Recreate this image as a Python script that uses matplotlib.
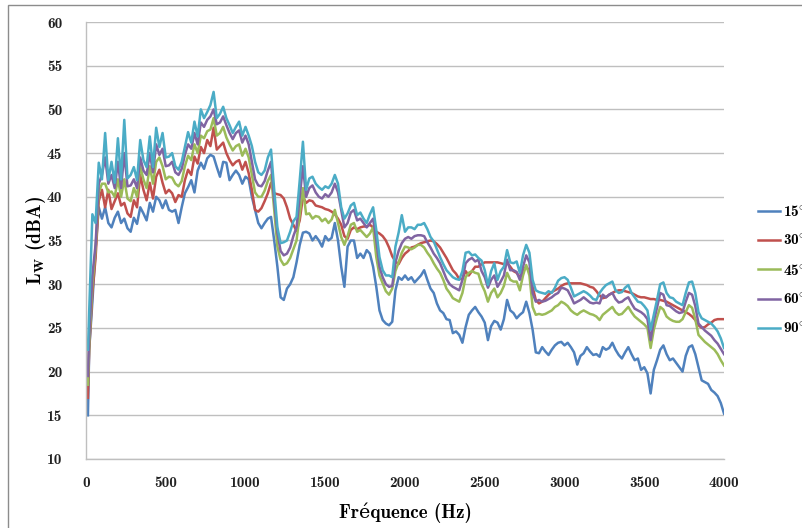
import matplotlib
matplotlib.use("Agg")
import matplotlib.pyplot as plt
import matplotlib.patches as patches

plt.rcParams['font.family'] = ['cmb10', 'DejaVu Serif']
plt.rcParams['font.weight'] = 'bold'
plt.rcParams['mathtext.fontset'] = 'cm'
plt.rcParams['axes.unicode_minus'] = False

# frequency grid (Hz)
freq = [12] + list(range(20, 4001, 20))

lw_15 = [15.0,
         22.5, 28.0, 34.0, 38.8, 37.5, 38.8, 37.0, 36.5, 37.6, 38.3,
         37.0, 37.5, 36.4, 36.0, 37.6, 36.9, 38.8, 38.1, 37.3, 39.3,
         38.3, 40.0, 39.6, 38.7, 39.6, 38.5, 38.3, 38.5, 37.0, 38.8,
         40.4, 41.1, 41.9, 40.5, 43.0, 43.9, 43.2, 44.4, 44.8, 44.6,
         43.4, 42.3, 44.0, 43.9, 41.9, 42.5, 43.0, 42.5, 41.5, 42.3,
         42.0, 40.0, 38.5, 37.0, 36.4, 37.0, 37.5, 37.7, 35.0, 32.0,
         28.5, 28.2, 29.5, 30.0, 30.8, 32.5, 34.5, 35.9, 36.0, 35.8,
         35.0, 35.5, 35.0, 34.3, 35.5, 35.0, 35.3, 37.0, 35.0, 32.0,
         29.7, 34.3, 35.0, 35.0, 33.0, 33.5, 33.0, 33.9, 33.5, 32.0,
         29.7, 27.0, 25.9, 25.5, 25.3, 25.7, 29.3, 30.8, 30.5, 31.0,
         30.5, 30.8, 30.2, 30.6, 31.0, 31.6, 30.5, 29.5, 29.0, 27.8,
         27.0, 26.7, 26.0, 25.9, 24.4, 24.6, 24.2, 23.3, 25.1, 26.5,
         27.0, 27.4, 26.8, 26.3, 25.6, 23.6, 25.2, 25.8, 25.6, 24.8,
         26.0, 28.2, 27.0, 26.7, 26.1, 26.5, 26.8, 28.0, 26.7, 24.8,
         22.2, 22.1, 22.8, 22.3, 21.9, 22.5, 23.0, 23.3, 23.4, 23.0,
         23.3, 22.8, 22.2, 20.8, 21.8, 22.1, 22.8, 22.3, 21.9, 22.0,
         21.7, 22.8, 22.5, 22.7, 23.3, 22.5, 21.9, 21.5, 22.2, 22.8,
         22.0, 21.3, 21.5, 20.2, 20.5, 19.8, 17.5, 20.2, 21.3, 22.5,
         23.0, 22.0, 21.3, 21.5, 21.0, 20.5, 20.0, 21.8, 22.8, 23.0,
         22.0, 20.5, 19.0, 18.8, 18.6, 17.9, 17.6, 17.2, 16.4, 15.2]

lw_30 = [17.0,
         22.5, 29.0, 33.0, 39.5, 40.8, 38.8, 40.8, 38.6, 39.5, 40.4,
         39.0, 39.3, 38.1, 37.7, 39.6, 38.8, 42.5, 40.8, 39.6, 41.6,
         39.8, 42.3, 43.1, 41.6, 40.4, 40.8, 40.4, 39.4, 40.2, 40.0,
         41.9, 43.1, 42.5, 44.6, 43.8, 45.7, 45.0, 46.5, 45.8, 47.9,
         45.4, 45.8, 46.2, 45.0, 44.2, 43.6, 44.0, 44.2, 43.1, 44.0,
         42.7, 40.8, 38.5, 38.3, 38.7, 39.5, 40.4, 41.6, 40.4, 40.3,
         40.2, 39.8, 38.8, 37.5, 36.8, 36.1, 37.3, 40.0, 39.3, 39.6,
         39.5, 39.0, 38.9, 38.8, 38.6, 38.5, 38.3, 38.0, 37.5, 36.8,
         35.5, 35.2, 36.2, 36.5, 36.3, 36.5, 36.6, 36.6, 36.8, 36.5,
         36.0, 35.8, 35.5, 35.0, 34.2, 33.2, 32.6, 32.3, 33.0, 33.5,
         33.8, 34.2, 34.3, 34.5, 34.7, 34.8, 34.9, 35.0, 34.9, 34.6,
         34.2, 33.6, 33.0, 32.3, 31.6, 31.2, 30.6, 30.6, 31.5, 31.0,
         31.5, 32.0, 32.0, 32.3, 32.5, 32.5, 32.5, 32.5, 32.5, 32.4,
         32.3, 32.5, 32.0, 31.5, 31.3, 30.8, 31.5, 32.0, 31.5, 29.7,
         28.2, 27.8, 28.0, 28.4, 28.8, 29.1, 29.3, 29.5, 29.8, 30.0,
         30.1, 30.1, 30.1, 30.1, 30.1, 30.0, 29.9, 29.7, 29.6, 29.2,
         28.7, 28.4, 28.5, 28.8, 29.0, 29.2, 29.3, 29.3, 29.2, 29.1,
         29.0, 28.8, 28.6, 28.5, 28.5, 28.4, 28.3, 28.3, 28.2, 28.2,
         28.1, 28.0, 27.8, 27.6, 27.4, 27.2, 27.0, 26.8, 26.6, 26.3,
         25.9, 25.3, 25.0, 25.1, 25.4, 25.6, 25.9, 26.0, 26.0, 26.0]

lw_45 = [18.5,
         23.0, 30.0, 34.0, 40.5, 41.5, 41.5, 40.5, 40.6, 40.0, 42.0,
         40.0, 42.0, 39.8, 39.5, 41.0, 40.0, 43.5, 42.0, 41.0, 43.5,
         41.5, 44.0, 44.5, 43.5, 42.0, 42.3, 42.2, 41.5, 41.2, 41.8,
         43.5, 44.7, 44.2, 46.0, 45.0, 47.0, 46.7, 47.5, 47.7, 49.0,
         47.0, 47.3, 48.0, 46.8, 46.0, 45.3, 45.8, 46.0, 44.7, 45.5,
         44.5, 42.5, 40.5, 40.0, 40.0, 40.7, 41.8, 42.5, 38.5, 34.3,
         32.8, 32.2, 32.4, 33.0, 34.0, 35.0, 38.0, 41.0, 38.0, 38.1,
         37.5, 37.8, 37.7, 37.2, 37.5, 37.0, 37.4, 38.5, 37.0, 35.4,
         34.5, 35.5, 36.8, 37.0, 36.0, 36.2, 35.8, 35.4, 35.8, 36.5,
         33.1, 31.0, 30.1, 29.2, 28.8, 29.5, 31.5, 32.5, 33.6, 34.3,
         34.2, 34.0, 34.2, 34.5, 34.5, 34.2, 33.6, 33.1, 32.4, 31.8,
         31.3, 30.5, 29.5, 29.0, 28.4, 28.2, 28.0, 29.0, 30.8, 31.3,
         31.5, 31.3, 31.2, 30.0, 29.2, 28.0, 29.0, 29.5, 28.5, 29.0,
         29.8, 31.3, 30.5, 30.3, 30.3, 29.3, 31.0, 32.2, 31.0, 27.4,
         26.5, 26.6, 26.5, 26.6, 26.8, 27.0, 27.4, 27.6, 28.0, 27.8,
         27.5, 27.0, 26.7, 26.5, 26.8, 27.0, 26.8, 26.6, 26.5, 26.3,
         25.9, 26.5, 26.8, 27.1, 27.4, 26.8, 26.5, 26.6, 27.0, 27.4,
         26.8, 26.3, 26.0, 25.7, 25.4, 25.0, 22.7, 24.8, 26.2, 27.4,
         27.1, 26.3, 26.0, 25.8, 25.7, 25.7, 26.0, 26.8, 27.6, 27.3,
         26.0, 24.2, 23.8, 23.4, 23.1, 22.8, 22.5, 22.0, 21.3, 20.7]

lw_60 = [19.5,
         24.0, 31.0, 34.5, 41.5, 42.5, 44.5, 41.5, 42.5, 41.0, 44.0,
         41.0, 45.0, 41.2, 41.3, 42.0, 41.0, 44.5, 43.0, 42.5, 45.0,
         42.8, 46.0, 44.8, 45.5, 43.5, 43.6, 44.0, 42.8, 42.5, 43.2,
         44.8, 46.0, 45.5, 47.3, 46.0, 48.5, 48.0, 48.8, 49.2, 50.0,
         48.3, 48.5, 49.2, 48.2, 47.3, 46.6, 47.3, 47.6, 46.2, 47.0,
         46.0, 44.0, 42.0, 41.3, 41.2, 41.8, 43.0, 44.0, 39.5, 35.9,
         33.8, 33.3, 33.5, 34.2, 35.5, 36.5, 40.0, 43.5, 40.0, 41.0,
         41.3, 40.5, 40.0, 39.8, 40.3, 40.0, 40.5, 41.5, 40.5, 38.5,
         36.5, 37.0, 38.2, 38.5, 37.3, 37.5, 37.0, 36.5, 37.0, 37.5,
         35.0, 32.0, 30.8, 30.0, 29.7, 29.8, 32.5, 33.8, 34.7, 35.2,
         35.4, 35.2, 35.5, 35.6, 35.6, 35.5, 34.8, 34.2, 33.5, 33.0,
         32.4, 31.5, 30.6, 30.0, 29.7, 29.5, 29.3, 30.5, 32.4, 32.8,
         33.0, 32.6, 32.8, 31.5, 30.8, 29.6, 30.5, 31.0, 29.7, 30.3,
         31.0, 32.8, 31.6, 31.6, 31.4, 30.5, 32.0, 33.3, 32.5, 29.0,
         28.0, 28.2, 28.0, 28.1, 28.3, 28.5, 28.8, 29.0, 29.6, 29.5,
         29.3, 28.6, 27.8, 28.0, 28.2, 28.5, 28.2, 27.9, 27.8, 27.9,
         27.8, 28.8, 28.5, 28.8, 29.0, 28.3, 27.9, 28.0, 28.3, 28.5,
         27.8, 27.2, 27.0, 26.8, 26.5, 26.0, 23.6, 25.8, 27.3, 29.0,
         28.8, 27.6, 27.5, 27.2, 26.9, 26.7, 26.8, 28.0, 29.0, 28.8,
         27.5, 25.5, 25.1, 24.7, 24.4, 24.1, 23.6, 23.2, 22.6, 22.0]

lw_90 = [22.5,
         27.0, 38.0, 37.0, 43.9, 42.0, 47.3, 41.9, 44.0, 41.6, 46.7,
         42.0, 48.8, 42.1, 42.5, 43.4, 41.9, 46.5, 44.2, 43.4, 46.9,
         43.4, 47.9, 45.7, 47.3, 44.5, 44.6, 45.0, 43.5, 43.1, 44.0,
         45.7, 47.4, 46.2, 48.6, 46.9, 50.0, 49.0, 49.7, 50.5, 52.0,
         49.0, 49.5, 50.3, 49.0, 48.2, 47.3, 48.0, 48.6, 47.0, 48.0,
         47.0, 45.8, 44.0, 42.8, 42.5, 43.0, 44.5, 45.4, 40.8, 36.5,
         34.7, 34.8, 35.0, 36.0, 37.2, 37.7, 41.9, 46.3, 40.8, 42.1,
         42.3, 41.5, 41.1, 40.8, 41.2, 41.0, 41.5, 42.5, 41.5, 38.8,
         37.5, 38.1, 39.0, 39.3, 37.9, 38.2, 37.5, 37.0, 38.0, 38.8,
         36.2, 33.1, 31.6, 31.0, 31.0, 30.8, 34.3, 35.9, 37.9, 36.0,
         36.5, 36.5, 36.3, 36.8, 36.8, 37.0, 36.3, 35.4, 34.9, 34.0,
         33.1, 32.3, 31.6, 31.2, 30.8, 30.6, 30.5, 31.5, 33.6, 33.7,
         33.3, 33.4, 33.0, 32.7, 31.6, 29.9, 31.5, 32.4, 30.5, 31.5,
         32.0, 33.9, 32.5, 32.4, 32.6, 31.3, 33.3, 34.5, 33.6, 30.5,
         29.3, 29.1, 29.0, 28.9, 29.2, 29.0, 29.6, 30.4, 30.7, 30.8,
         30.5, 29.6, 28.6, 28.8, 29.0, 29.2, 29.0, 28.7, 28.3, 28.2,
         29.0, 29.5, 29.9, 30.1, 30.3, 29.3, 29.0, 29.1, 29.6, 29.9,
         29.0, 28.5, 28.0, 27.9, 27.5, 27.0, 24.8, 26.5, 28.2, 30.0,
         30.2, 29.0, 28.5, 28.4, 28.0, 27.8, 27.6, 29.0, 30.2, 30.3,
         29.0, 26.8, 26.1, 25.9, 25.7, 25.5, 25.1, 24.6, 23.8, 22.7]

labels = ['15$^{\\circ}$', '30$^{\\circ}$', '45$^{\\circ}$', '60$^{\\circ}$', '90$^{\\circ}$']
colors = ['#4F81BD', '#C0504D', '#9BBB59', '#8064A2', '#4BACC6']
series = [lw_15, lw_30, lw_45, lw_60, lw_90]

fig = plt.figure(figsize=(8.03, 5.28), dpi=100)
ax = fig.add_axes([86 / 803, 1 - 459 / 528, (724 - 86) / 803, (459 - 22) / 528])

for vals, lab, col in zip(series, labels, colors):
    ax.plot(freq, vals, color=col, lw=1.8, label=lab, solid_joinstyle='round')

ax.set_xlim(0, 4000)
ax.set_ylim(10, 60)
ax.set_xticks(range(0, 4001, 500))
ax.set_yticks(range(10, 61, 5))
ax.grid(axis='y', color='#BFBFBF', lw=1)
ax.set_axisbelow(True)
for s in ['top', 'right']:
    ax.spines[s].set_visible(False)
for s in ['left', 'bottom']:
    ax.spines[s].set_color('#BFBFBF')
    ax.spines[s].set_linewidth(1)
ax.tick_params(length=0, labelsize=11, colors='#222222', pad=12)
ax.tick_params(axis='y', pad=17)

ax.set_xlabel('Fréquence (Hz)', fontsize=13.7, labelpad=9)
ax.set_ylabel(r'$\mathbf{L_W}$ (dBA)', fontsize=14, labelpad=-1)

fig.legend(loc='upper left', bbox_to_anchor=(758 / 803, 1 - 204 / 528),
           frameon=False, fontsize=11, handlelength=1.45, handletextpad=0.2,
           labelspacing=0.95, borderpad=0, borderaxespad=0)

fig.add_artist(patches.Rectangle((8 / 803, -0.1), 2, 1.1 - 5 / 528,
                                 transform=fig.transFigure, fill=False,
                                 edgecolor='#8C8C8C', lw=1))

fig.savefig('out.png', dpi=100)
